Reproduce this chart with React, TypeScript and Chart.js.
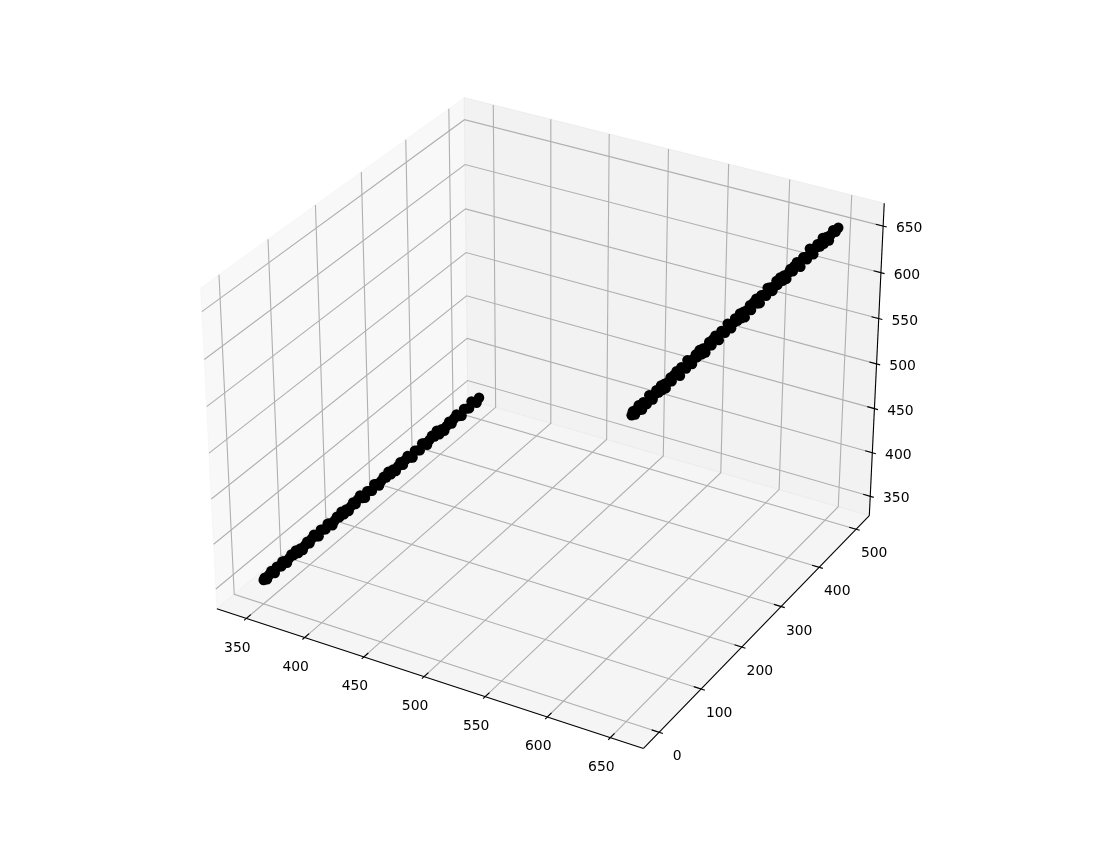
import React, { useEffect, useRef } from "react";
import { Chart, registerables } from "chart.js";

Chart.register(...registerables);

const xTicks = [350, 400, 450, 500, 550, 600, 650];
const yTicks = [0, 100, 200, 300, 400, 500];
const zTicks = [350, 400, 450, 500, 550, 600, 650];
const xLim = [331.5, 668.9];
const yLim = [-25, 525];
const zLim = [334.5, 667.5];

const nearX = [351,352,354,356,358,359,361,363,365,367,368,370,372,374,376,378,380,382,384,386,388,390,392,394,396,398,400,402,404,406,408,410,412,414,416,418,420,422,424,426,428,430,432,434,436,438,440,442,444,446,448,450,452,454,456,458,460,462,464,466,468,470,472,474,476,478,480,482,484,486,488,490,492,494,496,498,500,502,504,506,508,510,512,514,516,518,520,522,524,526,528,530,532,534];
const nearZ = [355,358,357,363,368,366,367,375,376,377,383,384,383,389,394,394,400,398,404,403,409,414,413,419,424,423,424,432,433,434,441,442,441,447,452,452,459,457,463,462,468,473,472,478,483,481,482,490,491,492,500,501,500,506,511,511,518,516,522,521,527,532,530,536,541,540,541,549,550,551,559,560,559,565,570,570,577,574,580,579,585,590,589,595,600,599,600,608,609,610,618,618,618,624];
const nearY = nearX.map(() => 0);

const farX = [484,485,487,488,490,491,493,494,496,497,499,500,502,504,505,507,509,510,512,513,515,517,518,520,522,523,525,526,528,530,531,533,535,536,538,539,541,543,544,546,548,549,551,552,554,556,557,559,561,562,564,565,567,569,570,572,574,575,577,578,580,582,583,585,587,588,590,591,593,595,596,598,600,601,603,604,606,608,609,611,613,614,616,617,619,621,622,624,626,627,629,630,632,634,635,637,639,640,642,644,645,647,649,651];
const farZ = [384,389,386,392,398,393,394,403,403,402,413,412,409,416,421,419,428,423,431,426,434,440,436,444,449,445,445,455,455,455,465,465,462,468,474,471,480,476,483,479,487,492,489,496,501,498,497,508,508,507,518,516,514,521,526,524,533,528,536,530,539,545,540,549,554,549,550,559,560,560,569,570,567,572,579,575,584,581,587,584,592,596,594,600,605,603,601,612,613,611,623,621,618,626,630,628,638,632,640,637,643,649,648,653];
const farY = farX.map(() => 500);

type V = [number, number, number];
const ELEV = (30 * Math.PI) / 180;
const AZIM = (-60 * Math.PI) / 180;
const DIST = 10;
const aspect: V = [4, 4, 3];
const anorm = Math.hypot(...aspect);
const BOX = aspect.map((a) => (a * 1.8294640721620434 * 25) / 24 / anorm) as V;

const cross = (a: V, b: V): V => [a[1] * b[2] - a[2] * b[1], a[2] * b[0] - a[0] * b[2], a[0] * b[1] - a[1] * b[0]];
const dot = (a: V, b: V) => a[0] * b[0] + a[1] * b[1] + a[2] * b[2];
const unit = (a: V): V => {
  const n = Math.hypot(...a);
  return [a[0] / n, a[1] / n, a[2] / n];
};
const w = unit([Math.cos(ELEV) * Math.cos(AZIM), Math.cos(ELEV) * Math.sin(AZIM), Math.sin(ELEV)]);
const eye: V = [BOX[0] / 2 + DIST * w[0], BOX[1] / 2 + DIST * w[1], BOX[2] / 2 + DIST * w[2]];
const u = unit(cross([0, 0, 1], w));
const v = cross(w, u);

const SIDE = 735.8;
const LEFT = 171.5;
const BOTTOM = 72.7;
const HEIGHT = 857;

function project(x: number, y: number, z: number) {
  const p: V = [
    ((x - xLim[0]) / (xLim[1] - xLim[0])) * BOX[0] - eye[0],
    ((y - yLim[0]) / (yLim[1] - yLim[0])) * BOX[1] - eye[1],
    ((z - zLim[0]) / (zLim[1] - zLim[0])) * BOX[2] - eye[2],
  ];
  const d = -dot(p, w);
  const sx = dot(p, u) / d;
  const sy = dot(p, v) / d;
  return {
    x: LEFT + ((sx + 0.095) / 0.185) * SIDE,
    y: HEIGHT - (BOTTOM + ((sy + 0.095) / 0.185) * SIDE),
  };
}

const pad = (lim: number[]) => (lim[1] - lim[0]) / 48;
const x0 = xLim[0] - pad(xLim), x1 = xLim[1] + pad(xLim);
const y0 = yLim[0] - pad(yLim), y1 = yLim[1] + pad(yLim);
const z0 = zLim[0] - pad(zLim), z1 = zLim[1] + pad(zLim);
const dx = (x1 - x0) / 12, dy = (y1 - y0) / 12;

const GRID = "#b0b0b0";
const LW = 1.11;

function line(pts: V[], color: string) {
  return {
    data: pts.map((p) => project(p[0], p[1], p[2])),
    showLine: true, borderColor: color, borderWidth: LW, pointRadius: 0, tension: 0, fill: false, clip: false,
  };
}
function pane(pts: V[], color: string) {
  return {
    data: pts.map((p) => project(p[0], p[1], p[2])),
    showLine: true, borderColor: color, backgroundColor: color, borderWidth: 1, pointRadius: 0, tension: 0, fill: "shape", clip: false,
  };
}
function scatter(xs: number[], ys: number[], zs: number[]) {
  return {
    data: xs.map((x, i) => project(x, ys[i], zs[i])),
    showLine: false, pointRadius: 5.2, pointBorderWidth: 0, pointBackgroundColor: "#000000", clip: false,
  };
}

function buildDatasets() {
  const back: any[] = [
    pane([[x0, y0, z0], [x0, y1, z0], [x0, y1, z1], [x0, y0, z1], [x0, y0, z0]], "rgba(242,242,242,0.5)"),
    pane([[x0, y1, z0], [x1, y1, z0], [x1, y1, z1], [x0, y1, z1], [x0, y1, z0]], "rgba(230,230,230,0.5)"),
    pane([[x0, y0, z0], [x1, y0, z0], [x1, y1, z0], [x0, y1, z0], [x0, y0, z0]], "rgba(236,236,236,0.5)"),
  ];
  xTicks.forEach((t) => back.push(line([[t, y0, z0], [t, y1, z0], [t, y1, z1]], GRID)));
  yTicks.forEach((t) => back.push(line([[x1, t, z0], [x0, t, z0], [x0, t, z1]], GRID)));
  zTicks.forEach((t) => back.push(line([[x0, y0, t], [x0, y1, t], [x1, y1, t]], GRID)));
  back.push(line([[x0, y0, z0], [x1, y0, z0]], "#000000"));
  back.push(line([[x1, y0, z0], [x1, y1, z0]], "#000000"));
  back.push(line([[x1, y1, z0], [x1, y1, z1]], "#000000"));
  xTicks.forEach((t) => back.push(line([[t, y0 - 0.1 * dy, z0], [t, y0 + 0.2 * dy, z0]], "#000000")));
  yTicks.forEach((t) => back.push(line([[x1 - 0.2 * dx, t, z0], [x1 + 0.1 * dx, t, z0]], "#000000")));
  zTicks.forEach((t) => back.push(line([[x1 - 0.2 * dx, y1, t], [x1 + 0.1 * dx, y1, t]], "#000000")));
  back.push(scatter(nearX, nearY, nearZ));
  back.push(scatter(farX, farY, farZ));
  return back.reverse();
}

const tickLabels = {
  id: "tickLabels",
  afterDatasetsDraw(chart: any) {
    const { ctx, scales } = chart;
    ctx.save();
    ctx.fillStyle = "#000000";
    ctx.font = '13.9px "DejaVu Sans"';
    ctx.textAlign = "center";
    ctx.textBaseline = "middle";
    const put = (t: number, p: { x: number; y: number }, ox: number, oy: number) => {
      ctx.fillText(String(t), scales.x.getPixelForValue(p.x) + ox, scales.y.getPixelForValue(p.y) + oy);
    };
    xTicks.forEach((t) => put(t, project(t, y0, z0), -9, 29.5));
    yTicks.forEach((t) => put(t, project(x1, t, z0), 18, 24.5));
    zTicks.forEach((t) => put(t, project(x1, y1, t), 26, 2.5));
    ctx.restore();
  },
};

export default function App() {
  const ref = useRef<HTMLCanvasElement>(null);
  useEffect(() => {
    const chart = new Chart(ref.current as HTMLCanvasElement, {
      type: "scatter",
      data: { datasets: buildDatasets() },
      options: {
        animation: false,
        responsive: false,
        layout: { padding: 0 },
        plugins: { legend: { display: false }, tooltip: { enabled: false }, title: { display: false } },
        scales: {
          x: { type: "linear", min: 0, max: 1100, display: false },
          y: { type: "linear", min: 0, max: 857, reverse: true, display: false },
        },
      },
      plugins: [tickLabels],
    } as any);
    return () => chart.destroy();
  }, []);
  return (
    <canvas
      ref={ref}
      width={1100}
      height={857}
      style={{ position: "fixed", left: 0, top: 0, display: "block", width: 1100, height: 857 }}
    />
  );
}
